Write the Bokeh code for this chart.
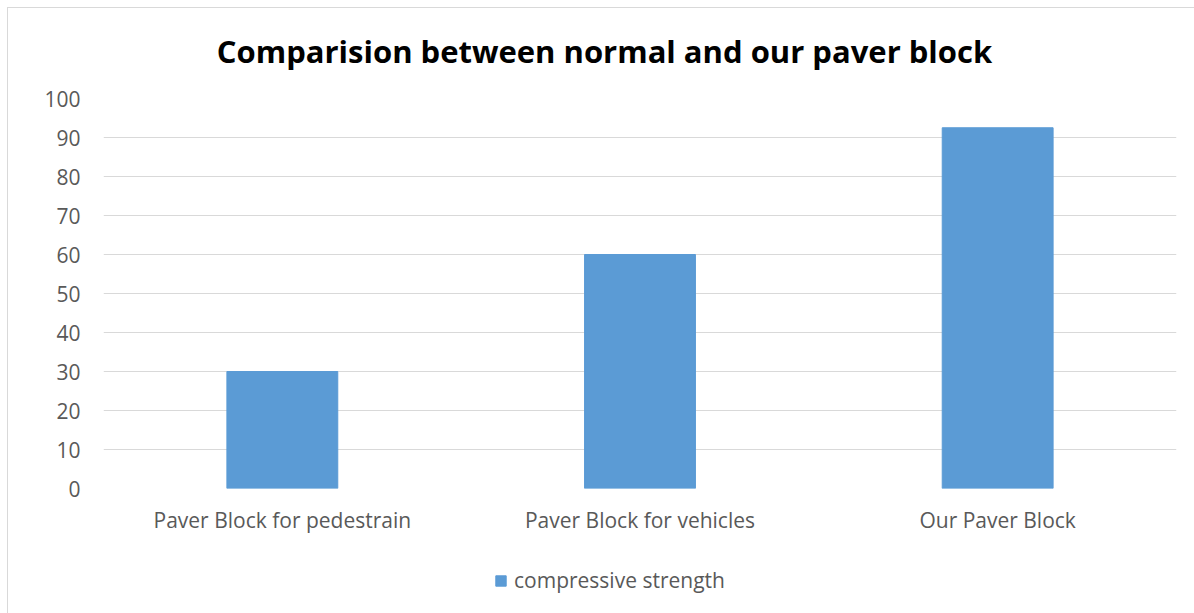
from bokeh.plotting import figure
from bokeh.layouts import column
from bokeh.models import ColumnDataSource, Legend, LegendItem, FixedTicker, Range1d, Label
from bokeh.embed import file_html
from bokeh.resources import INLINE

categories = ["Paver Block for pedestrain", "Paver Block for vehicles", "Our Paver Block"]
strength = [30, 60, 92.5]
y_ticks = [0, 10, 20, 30, 40, 50, 60, 70, 80, 90, 100]
series_name = "compressive strength"
title_text = "Comparision between normal and our paver block"

FONT = "Open Sans"
TEXT_GRAY = "#595959"
GRID_GRAY = "#d9d9d9"
BAR_BLUE = "#5b9bd5"
W = 1186
LEFT, RIGHT = 95, 18


def blank_strip(height):
    """Row without axes; its frame lines up with the chart's frame, x in canvas pixels."""
    f = figure(width=W, height=height, x_range=Range1d(LEFT, W - RIGHT),
               y_range=Range1d(0, height),
               output_backend="svg", toolbar_location=None,
               min_border_top=0, min_border_bottom=0,
               min_border_left=LEFT, min_border_right=RIGHT)
    f.axis.visible = False
    f.grid.visible = False
    f.outline_line_color = None
    f.border_fill_color = "white"
    f.background_fill_color = "white"
    return f


# heading row
head = blank_strip(75)
head.add_layout(Label(x=596, y=33, text=title_text, text_font=FONT,
                      text_font_style="bold", text_font_size="31px",
                      text_color="black", text_align="center",
                      text_baseline="middle"))

# main chart
source = ColumnDataSource(dict(cat=categories, val=strength))
p = figure(
    x_range=categories,
    y_range=Range1d(0, 100),
    width=W, height=467,
    output_backend="svg", toolbar_location=None,
    min_border_left=LEFT, min_border_right=RIGHT,
    min_border_top=15, min_border_bottom=62,
)
p.outline_line_color = None
p.background_fill_color = "white"
p.border_fill_color = "white"

bars = p.vbar(x="cat", top="val", width=0.31, source=source,
              fill_color=BAR_BLUE, line_color=BAR_BLUE)

p.yaxis.ticker = FixedTicker(ticks=y_ticks)
p.xgrid.grid_line_color = None
p.ygrid.grid_line_color = GRID_GRAY
p.ygrid.grid_line_width = 1
for ax in (p.xaxis[0], p.yaxis[0]):
    ax.axis_line_color = None
    ax.major_tick_line_color = None
    ax.minor_tick_line_color = None
    ax.major_label_text_font = FONT
    ax.major_label_text_color = TEXT_GRAY
    ax.major_label_text_font_size = "21px"
p.xaxis.major_label_standoff = 11
p.yaxis.major_label_standoff = 17
p.x_range.range_padding = 0

# legend row; the swatch renderer lies below the visible range so only its legend glyph shows
foot = blank_strip(63)
swatch = foot.vbar(x=[600], top=[-50], bottom=[-60], width=5,
                   fill_color=BAR_BLUE, line_color=BAR_BLUE)
legend = Legend(items=[LegendItem(label=series_name, renderers=[swatch])],
                location=(391, 19), orientation="horizontal",
                padding=0, margin=0, spacing=0,
                glyph_width=13, glyph_height=13, label_standoff=7,
                label_text_font=FONT, label_text_font_size="21px",
                label_text_color=TEXT_GRAY,
                border_line_color=None, background_fill_alpha=0)
foot.add_layout(legend, "center")

layout = column(head, p, foot, spacing=0)
layout.styles = {"margin-left": "7px", "margin-top": "7px",
                 "border-left": "1px solid #d9d9d9", "border-top": "1px solid #d9d9d9"}

open("out.html", "w").write(file_html(layout, INLINE))
